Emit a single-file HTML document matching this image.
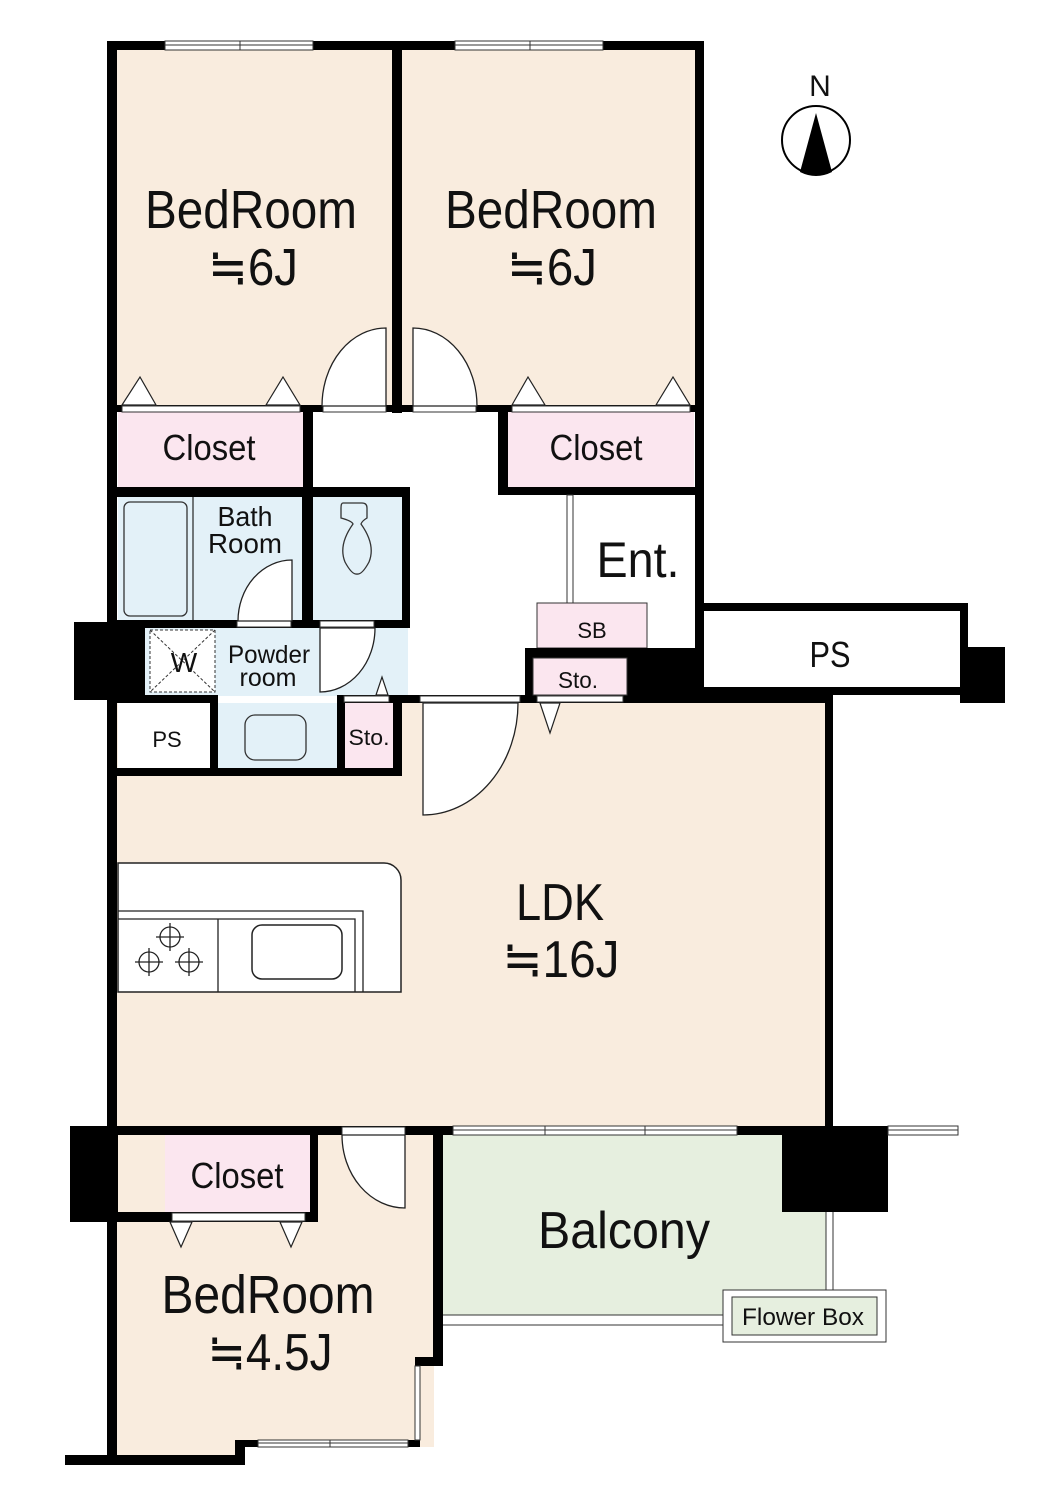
<!DOCTYPE html>
<html><head><meta charset="utf-8"><style>
html,body{margin:0;padding:0;background:#fff}
svg{display:block}
text{font-family:"Liberation Sans Narrow","Liberation Sans",sans-serif;fill:#111}
</style></head><body>
<svg width="1047" height="1500" viewBox="0 0 1047 1500" xmlns="http://www.w3.org/2000/svg">
<g stroke="none">
<!-- room fills -->
<rect x="117" y="703" width="709" height="423" fill="#f9ecde"/>
<rect x="117" y="1135" width="317" height="312" fill="#f9ecde"/>
<rect x="117" y="1440" width="120" height="16" fill="#f9ecde"/>
<rect x="117" y="50" width="275" height="356" fill="#f9ecde"/>
<rect x="402" y="50" width="293" height="356" fill="#f9ecde"/>
<rect x="118" y="412" width="186" height="76" fill="#fbe6ef"/>
<rect x="508" y="412" width="186" height="76" fill="#fbe6ef"/>
<rect x="118" y="497" width="185" height="124" fill="#e3f1f8"/>
<rect x="313" y="497" width="89" height="124" fill="#e3f1f8"/>
<rect x="140" y="628" width="268" height="68" fill="#e3f1f8"/>
<rect x="218" y="703" width="120" height="65" fill="#e3f1f8"/>
<rect x="345" y="703" width="48" height="65" fill="#fbe6ef"/>
<rect x="402" y="695" width="123" height="10" fill="#f9ecde"/>
<rect x="443" y="1135" width="383" height="180" fill="#e6efdf"/>
<rect x="165" y="1135" width="145" height="77" fill="#fbe6ef"/>
<rect x="537" y="603" width="110" height="45" fill="#fbe6ef" stroke="#333" stroke-width="1"/>
</g>
<!-- kitchen -->
<path d="M118 863 H384 A17 17 0 0 1 401 880 V992 H118 Z" fill="#fff" stroke="#222" stroke-width="1.5"/>
<path d="M118 911 H363 V992 M118 919 H355 V992 M218 919 V992" fill="none" stroke="#222" stroke-width="1.3"/>
<rect x="252" y="925" width="90" height="54" rx="10" fill="none" stroke="#222" stroke-width="1.5"/>
<g fill="none" stroke="#222" stroke-width="1.3">
<circle cx="170" cy="937" r="10"/><path d="M156 937H184M170 923V951"/>
<circle cx="149" cy="962" r="10"/><path d="M135 962H163M149 948V976"/>
<circle cx="189" cy="962" r="10"/><path d="M175 962H203M189 948V976"/>
</g>
<!-- bath fixtures -->
<rect x="124" y="502" width="63" height="114" rx="6" fill="none" stroke="#333" stroke-width="1.3"/>
<line x1="193" y1="497" x2="193" y2="621" stroke="#333" stroke-width="1.3"/>
<path d="M343 503 H362 Q367 503 367 508 V518 Q362 521 361 524 Q376 545 369 562 Q362 575 357 574 Q352 575 345 562 Q338 545 353 524 Q352 521 341 518 V508 Q341 503 343 503Z" fill="none" stroke="#333" stroke-width="1.3"/>
<rect x="245" y="715" width="61" height="45" rx="10" fill="none" stroke="#333" stroke-width="1.3"/>
<rect x="150" y="630" width="65" height="62" fill="#fff" stroke="#333" stroke-width="1" stroke-dasharray="3 2"/>
<path d="M150 630 L215 692 M215 630 L150 692" stroke="#333" stroke-width="1" stroke-dasharray="3 2"/>
<!-- black walls -->
<g fill="#000">
<rect x="107" y="41" width="597" height="9"/>
<rect x="107" y="41" width="10" height="1424"/>
<rect x="392" y="41" width="10" height="372"/>
<rect x="695" y="41" width="9" height="654"/>
<rect x="107" y="405" width="597" height="7"/>
<rect x="303" y="405" width="10" height="92"/>
<rect x="498" y="405" width="10" height="90"/>
<rect x="498" y="487" width="206" height="8"/>
<rect x="107" y="487" width="303" height="10"/>
<rect x="302" y="487" width="11" height="134"/>
<rect x="402" y="487" width="8" height="141"/>
<rect x="107" y="620" width="303" height="8"/>
<rect x="74" y="622" width="71" height="78"/>
<rect x="107" y="695" width="111" height="8"/>
<rect x="210" y="695" width="8" height="80"/>
<rect x="337" y="695" width="8" height="80"/>
<rect x="337" y="695" width="65" height="8"/>
<rect x="393" y="695" width="9" height="80"/>
<rect x="107" y="768" width="295" height="8"/>
<rect x="402" y="695" width="430" height="8"/>
<rect x="525" y="648" width="179" height="55"/>
<rect x="825" y="695" width="8" height="433"/>
<rect x="700" y="603" width="268" height="8"/>
<rect x="700" y="687" width="268" height="8"/>
<rect x="960" y="603" width="8" height="92"/>
<rect x="960" y="647" width="45" height="56"/>
<rect x="70" y="1126" width="818" height="9"/>
<rect x="70" y="1126" width="48" height="96"/>
<rect x="782" y="1126" width="106" height="86"/>
<rect x="310" y="1135" width="8" height="87"/>
<rect x="107" y="1212" width="211" height="10"/>
<rect x="433" y="1126" width="10" height="240"/>
<rect x="415" y="1357" width="28" height="9"/>
<rect x="65" y="1455" width="180" height="10"/>
<rect x="235" y="1440" width="10" height="25"/>
<rect x="235" y="1440" width="185" height="7"/>
</g>
<!-- Sto and PS boxes -->
<rect x="533" y="658" width="94" height="37" fill="#fbe6ef" stroke="#333" stroke-width="1"/>
<rect x="708" y="611" width="252" height="76" fill="#fff"/>
<rect x="118" y="703" width="92" height="65" fill="#fff"/>
<!-- windows -->
<g fill="#fff" stroke="#333" stroke-width="1">
<rect x="165" y="41" width="148" height="9"/>
<rect x="455" y="41" width="148" height="9"/>
<rect x="453" y="1126" width="284" height="9"/>
<rect x="258" y="1440" width="150" height="7"/>
<rect x="415" y="1366" width="5" height="74"/>
<rect x="888" y="1126" width="70" height="9"/>
</g>
<g stroke="#333" stroke-width="1">
<path d="M165 45H313M455 45H603M453 1130H737M258 1443H408M888 1130H958M240 41V50M530 41V50M545 1126V1135M645 1126V1135M330 1440V1447"/>
</g>
<!-- door strips -->
<g fill="#fff" stroke="#333" stroke-width="1">
<rect x="122" y="406" width="178" height="6"/>
<rect x="323" y="406" width="63" height="6"/>
<rect x="413" y="406" width="63" height="6"/>
<rect x="512" y="406" width="178" height="6"/>
<rect x="237" y="621" width="54" height="6"/>
<rect x="320" y="621" width="54" height="6"/>
<rect x="344" y="696" width="45" height="6"/>
<rect x="420" y="696" width="100" height="6"/>
<rect x="537" y="696" width="86" height="6"/>
<rect x="342" y="1127" width="63" height="8"/>
<rect x="172" y="1213" width="133" height="8"/>
<rect x="567" y="495" width="6" height="108"/>
</g>
<!-- doors -->
<g fill="#fff" stroke="#222" stroke-width="1.3">
<path d="M386 406 V328 A64 78 0 0 0 322 406 Z"/>
<path d="M413 406 V328 A64 78 0 0 1 477 406 Z"/>
<path d="M292 621 V560 A54 61 0 0 0 238 621 Z"/>
<path d="M320 628 V692 A55 64 0 0 0 375 628 Z"/>
<path d="M423 703 V815 A95 112 0 0 0 518 703 Z"/>
<path d="M405 1135 V1208 A63 73 0 0 1 342 1135 Z"/>
</g>
<!-- closet triangles -->
<g fill="#fff" stroke="#222" stroke-width="1.2">
<path d="M122 405 L140 377 L156 405Z"/>
<path d="M266 405 L283 377 L300 405Z"/>
<path d="M512 405 L528 377 L545 405Z"/>
<path d="M656 405 L673 377 L690 405Z"/>
<path d="M376 695 L382 677 L388 695Z"/>
<path d="M540 703 L550 733 L560 703Z"/>
<path d="M170 1222 L181 1247 L192 1222Z"/>
<path d="M280 1222 L291 1247 L302 1222Z"/>
</g>
<!-- balcony edges & flower box -->
<g fill="none" stroke="#333" stroke-width="1">
<path d="M826 1212 V1290 M833 1212 V1290"/>
<path d="M443 1315 H723 M443 1325 H723"/>
</g>
<rect x="723" y="1290" width="163" height="52" fill="#fff" stroke="#333" stroke-width="1"/>
<rect x="732" y="1297" width="145" height="38" fill="#e6efdf" stroke="#333" stroke-width="1"/>
<!-- compass -->
<ellipse cx="816" cy="140" rx="34" ry="34" fill="#fff" stroke="#000" stroke-width="2"/>
<path d="M816 113 L800 172 Q816 180 832 172 Z" fill="#000"/>
<text x="820" y="96" font-size="30" text-anchor="middle">N</text>
<!-- labels -->
<text x="251" y="228" font-size="54" text-anchor="middle" textLength="212" lengthAdjust="spacingAndGlyphs">BedRoom</text>
<text x="253" y="285" font-size="52" text-anchor="middle" textLength="90" lengthAdjust="spacingAndGlyphs">≒6J</text>
<text x="551" y="228" font-size="54" text-anchor="middle" textLength="212" lengthAdjust="spacingAndGlyphs">BedRoom</text>
<text x="552" y="285" font-size="52" text-anchor="middle" textLength="90" lengthAdjust="spacingAndGlyphs">≒6J</text>
<text x="209" y="460" font-size="36" text-anchor="middle" textLength="93" lengthAdjust="spacingAndGlyphs">Closet</text>
<text x="596" y="460" font-size="36" text-anchor="middle" textLength="93" lengthAdjust="spacingAndGlyphs">Closet</text>
<text x="245" y="526" font-size="28" text-anchor="middle" textLength="55" lengthAdjust="spacingAndGlyphs">Bath</text>
<text x="245" y="553" font-size="28" text-anchor="middle" textLength="74" lengthAdjust="spacingAndGlyphs">Room</text>
<text x="638" y="577" font-size="50" text-anchor="middle" textLength="83" lengthAdjust="spacingAndGlyphs">Ent.</text>
<text x="592" y="638" font-size="22" text-anchor="middle">SB</text>
<text x="830" y="667" font-size="36" text-anchor="middle" textLength="41" lengthAdjust="spacingAndGlyphs">PS</text>
<text x="578" y="688" font-size="23" text-anchor="middle" textLength="40" lengthAdjust="spacingAndGlyphs">Sto.</text>
<text x="269" y="663" font-size="25" text-anchor="middle" textLength="82" lengthAdjust="spacingAndGlyphs">Powder</text>
<text x="268" y="686" font-size="25" text-anchor="middle" textLength="57" lengthAdjust="spacingAndGlyphs">room</text>
<text x="184" y="672" font-size="28" text-anchor="middle">W</text>
<text x="167" y="747" font-size="22" text-anchor="middle">PS</text>
<text x="369" y="745" font-size="22" text-anchor="middle" textLength="41" lengthAdjust="spacingAndGlyphs">Sto.</text>
<text x="560" y="920" font-size="52" text-anchor="middle" textLength="88" lengthAdjust="spacingAndGlyphs">LDK</text>
<text x="561" y="977" font-size="52" text-anchor="middle" textLength="117" lengthAdjust="spacingAndGlyphs">≒16J</text>
<text x="237" y="1188" font-size="36" text-anchor="middle" textLength="93" lengthAdjust="spacingAndGlyphs">Closet</text>
<text x="624" y="1248" font-size="52" text-anchor="middle" textLength="172" lengthAdjust="spacingAndGlyphs">Balcony</text>
<text x="268" y="1313" font-size="54" text-anchor="middle" textLength="213" lengthAdjust="spacingAndGlyphs">BedRoom</text>
<text x="270" y="1370" font-size="52" text-anchor="middle" textLength="125" lengthAdjust="spacingAndGlyphs">≒4.5J</text>
<text x="803" y="1325" font-size="24" text-anchor="middle" textLength="122" lengthAdjust="spacingAndGlyphs">Flower Box</text>
</svg>
</body></html>
